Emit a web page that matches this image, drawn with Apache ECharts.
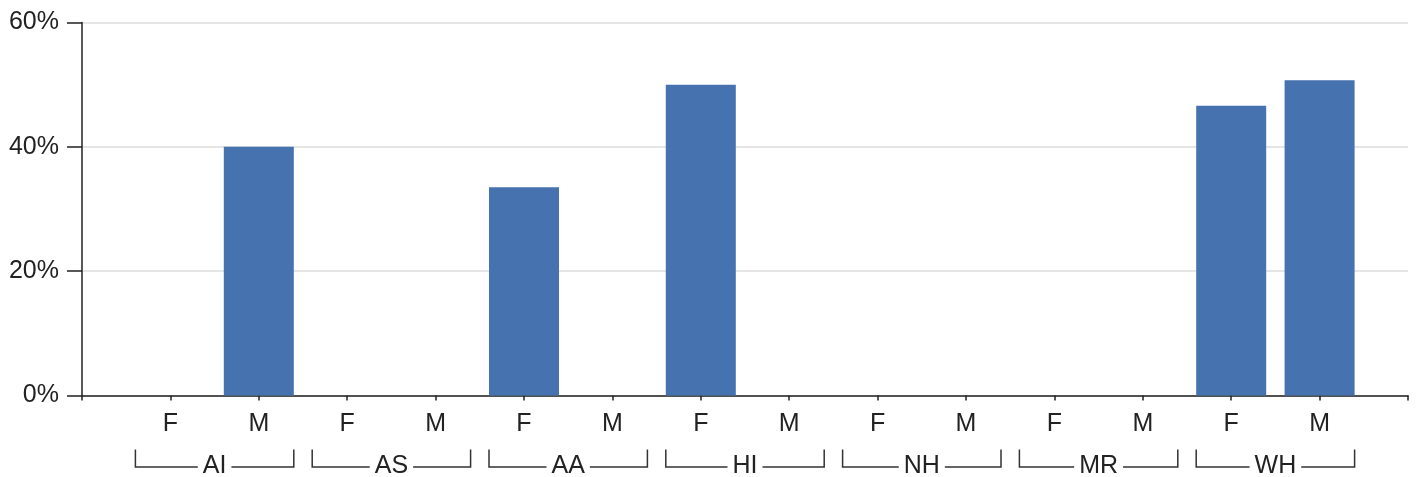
<!DOCTYPE html>
<html>
<head>
<meta charset="utf-8">
<script src="https://cdn.jsdelivr.net/npm/echarts@6/dist/echarts.min.js"></script>
<style>
  html, body { margin: 0; padding: 0; background: #fff; }
  #chart { width: 1416px; height: 477px; }
</style>
</head>
<body>
<div id="chart"></div>
<script>
// ---- data ----
const groups = ['AI', 'AS', 'AA', 'HI', 'NH', 'MR', 'WH'];
const sexes = ['F', 'M'];
// percentage values, in order AI-F, AI-M, AS-F, AS-M, ...
const values = [0, 40, 0, 0, 33.5, 0, 50, 0, 0, 0, 0, 0, 46.6, 50.7];
const yTicks = [0, 20, 40, 60];

// ---- styles ----
const FONT = "'Liberation Sans', Arial, sans-serif";
const TEXT_COLOR = '#222';
const BAR_COLOR = '#4672B0';
const BAR_W = 70;
const FS = 25;

// category axis with an empty slot on both ends
const categories = [''];
groups.forEach(() => sexes.forEach(s => categories.push(s)));
categories.push('');
const seriesData = [null].concat(values).concat([null]);

const chart = echarts.init(document.getElementById('chart'), null, { renderer: 'canvas' });

const option = {
  animation: false,
  backgroundColor: '#fff',
  grid: { left: 82, right: 8, top: 22.5, bottom: 81.5, containLabel: false },
  xAxis: {
    type: 'category',
    data: categories,
    boundaryGap: false,
    axisLine: { show: true, lineStyle: { color: TEXT_COLOR, width: 1.5 } },
    axisTick: { show: true, length: 5, lineStyle: { color: TEXT_COLOR, width: 1.5 } },
    axisLabel: { color: TEXT_COLOR, fontSize: FS, fontFamily: FONT, margin: 16, interval: 0 },
    splitLine: { show: false }
  },
  yAxis: {
    type: 'value',
    min: yTicks[0],
    max: yTicks[yTicks.length - 1],
    interval: yTicks[1] - yTicks[0],
    axisLine: { show: true, lineStyle: { color: TEXT_COLOR, width: 1.5 } },
    axisTick: { show: true, length: 15, lineStyle: { color: TEXT_COLOR, width: 1.5 } },
    axisLabel: { color: TEXT_COLOR, fontSize: FS, fontFamily: FONT, margin: 23, formatter: '{value}%' },
    splitLine: { show: true, lineStyle: { color: '#dcdcdc', width: 1.5 } }
  },
  series: [{
    type: 'bar',
    data: seriesData,
    barWidth: BAR_W,
    itemStyle: { color: BAR_COLOR },
    silent: true
  }]
};
chart.setOption(option);

// ---- group brackets under the axis, positioned from the category scale ----
const ctx = document.createElement('canvas').getContext('2d');
ctx.font = FS + 'px ' + FONT;
const baseY = chart.convertToPixel({ yAxisIndex: 0 }, 0);
const tickTopY = baseY + 54;
const lineY = baseY + 71.5;
const graphics = [];
groups.forEach((g, gi) => {
  const xF = chart.convertToPixel({ xAxisIndex: 0 }, 1 + gi * 2);
  const xM = chart.convertToPixel({ xAxisIndex: 0 }, 2 + gi * 2);
  const x1 = xF - BAR_W / 2;
  const x2 = xM + BAR_W / 2;
  const cx = (x1 + x2) / 2;
  const tw = ctx.measureText(g).width;
  const gap = tw / 2 + 5;
  const ls = { stroke: '#333', lineWidth: 1.5 };
  graphics.push({ type: 'polyline', shape: { points: [[x1, tickTopY], [x1, lineY], [cx - gap, lineY]] }, style: ls, silent: true });
  graphics.push({ type: 'polyline', shape: { points: [[cx + gap, lineY], [x2, lineY], [x2, tickTopY]] }, style: ls, silent: true });
  graphics.push({
    type: 'text', x: cx, y: lineY - 1,
    style: { text: g, fill: TEXT_COLOR, font: FS + 'px ' + FONT, textAlign: 'center', textVerticalAlign: 'middle', verticalAlign: 'middle', align: 'center' },
    silent: true
  });
});
chart.setOption({ graphic: graphics });
</script>
</body>
</html>
